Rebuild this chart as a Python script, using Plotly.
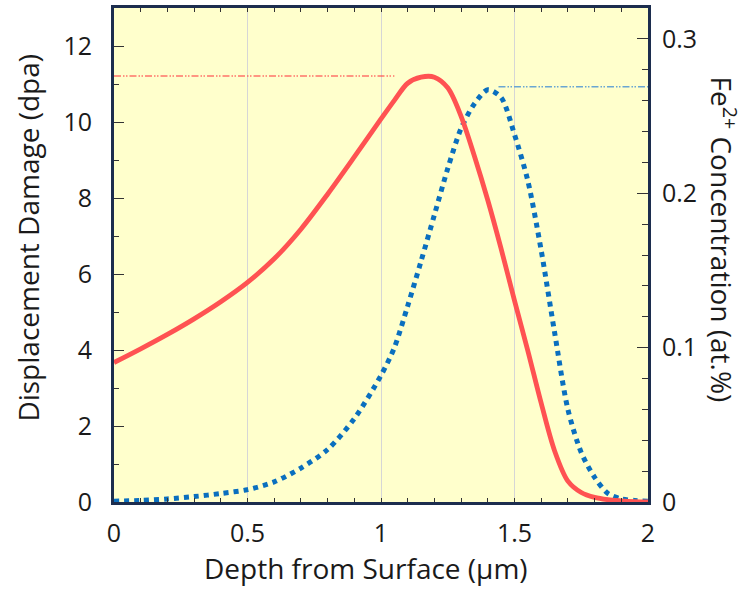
import plotly.graph_objects as go

# Depth profile (µm) sampled for both quantities
depth = [0, 0.1, 0.2, 0.3, 0.4, 0.5, 0.6, 0.7, 0.8, 0.9, 1.0, 1.05, 1.1, 1.15,
         1.2, 1.25, 1.3, 1.35, 1.4, 1.45, 1.5, 1.55, 1.6, 1.65, 1.7, 1.75, 1.8,
         1.85, 1.9, 1.95, 2.0]

# Displacement damage (dpa)
dpa = [3.67, 4.03, 4.41, 4.82, 5.27, 5.78, 6.4, 7.18, 8.1, 9.08, 10.08, 10.57,
       11.02, 11.18, 11.18, 10.9, 10.15, 9.1, 7.94, 6.66, 5.3, 3.98, 2.6,
       1.35, 0.55, 0.25, 0.12, 0.06, 0.03, 0.01, 0.0]

# Fe2+ concentration (at.%)
fe_conc = [0.0005, 0.001, 0.002, 0.0035, 0.0055, 0.008, 0.013, 0.022, 0.034,
           0.054, 0.082, 0.1, 0.127, 0.156, 0.186, 0.216, 0.242, 0.258,
           0.267, 0.262, 0.238, 0.208, 0.163, 0.11, 0.06, 0.032, 0.016,
           0.0055, 0.002, 0.001, 0.0005]

# Peak reference levels
dpa_peak_x = [0, 1.05]
dpa_peak_y = [11.21, 11.21]
fe_peak_x = [1.44, 2.0]
fe_peak_y = [0.269, 0.269]

# Axis ticks
x_ticks = [0, 0.5, 1, 1.5, 2]
x_ticklabels = ["0", "0.5", "1", "1.5", "2"]
dpa_ticks = [0, 2, 4, 6, 8, 10, 12]
fe_ticks = [0, 0.1, 0.2, 0.3]
fe_ticklabels = ["0", "0.1", "0.2", "0.3"]

FONT = "Open Sans"
FRAME = "#1c2d4e"
TXT = "#1a1a1a"
DASHDOT = "7px,2px,1.5px,1.5px,1.5px,2px"

W, H = 743, 592
ML, MR, MT, MB = 114, 95, 5, 90
PW, PH = W - ML - MR, H - MT - MB


def px(x):
    return (x - ML) / PW


def py(y):
    return (H - MB - y) / PH


fig = go.Figure()

# concentration (right axis, drawn first)
fig.add_trace(go.Scatter(
    x=fe_peak_x, y=fe_peak_y, mode="lines", yaxis="y",
    line=dict(color="#6aa6d2", width=1.6, dash=DASHDOT), hoverinfo="skip",
    showlegend=False))
fig.add_trace(go.Scatter(
    x=depth, y=fe_conc, mode="lines", yaxis="y",
    line=dict(color="#0a6fbf", width=5, dash="5px,5px", shape="spline",
              smoothing=0.8),
    showlegend=False))

# displacement damage (left axis, on top)
fig.add_trace(go.Scatter(
    x=dpa_peak_x, y=dpa_peak_y, mode="lines", yaxis="y2",
    line=dict(color="#ff5252", width=1.6, dash=DASHDOT), hoverinfo="skip",
    showlegend=False, opacity=0.8))
fig.add_trace(go.Scatter(
    x=depth, y=dpa, mode="lines", yaxis="y2",
    line=dict(color="#ff5252", width=4.8, shape="spline", smoothing=0.9),
    showlegend=False))

tickfont = dict(family=FONT, size=25, color=TXT)
titlefont = dict(family=FONT, size=28, color=TXT)

fig.update_layout(
    width=W, height=H,
    margin=dict(l=ML, r=MR, t=MT, b=MB, pad=0),
    paper_bgcolor="white",
    plot_bgcolor="#ffffcc",
    font=dict(family=FONT, color=TXT),
    xaxis=dict(
        range=[0, 2], tickvals=x_ticks, ticktext=x_ticklabels,
        ticks="inside", ticklen=4, tickwidth=1, tickcolor="#333",
        showline=True, linecolor=FRAME, linewidth=3, mirror="ticks",
        showgrid=True, gridcolor="#d6d6d6", gridwidth=1, zeroline=False,
        minor=dict(dtick=0.1, tick0=0, ticks="inside", ticklen=4,
                   tickcolor="#333", showgrid=False),
        tickfont=tickfont, ticklabelstandoff=7,
    ),
    yaxis=dict(
        range=[0, 0.32], side="right", tickvals=fe_ticks,
        ticktext=fe_ticklabels,
        ticks="inside", ticklen=11, tickwidth=1.2, tickcolor="#333",
        showline=True, linecolor=FRAME, linewidth=3,
        showgrid=False, zeroline=False,
        minor=dict(dtick=0.02, tick0=0, ticks="inside", ticklen=6,
                   tickcolor="#333", showgrid=False),
        tickfont=tickfont, ticklabelstandoff=6,
    ),
    yaxis2=dict(
        range=[0, 13], side="left", overlaying="y", tickvals=dpa_ticks,
        ticks="inside", ticklen=10, tickwidth=1.2, tickcolor="#333",
        showline=True, linecolor=FRAME, linewidth=3,
        showgrid=False, zeroline=False,
        minor=dict(dtick=1, tick0=0, ticks="inside", ticklen=5,
                   tickcolor="#333", showgrid=False),
        tickfont=tickfont, ticklabelstandoff=14,
    ),
    annotations=[
        dict(text="Depth from Surface (µm)", xref="paper", yref="paper",
             x=px(366), y=py(568), xanchor="center", yanchor="middle",
             showarrow=False, font=titlefont),
        dict(text="Displacement Damage (dpa)", xref="paper", yref="paper",
             x=px(28), y=py(236), xanchor="center", yanchor="middle",
             showarrow=False, textangle=-90, font=titlefont),
        dict(text="Fe<sup>2+</sup> Concentration (at.%)", xref="paper",
             yref="paper", x=px(723), y=py(238), xanchor="center",
             yanchor="middle", showarrow=False, textangle=90,
             font=titlefont),
    ],
)

fig.write_html("out.html")
